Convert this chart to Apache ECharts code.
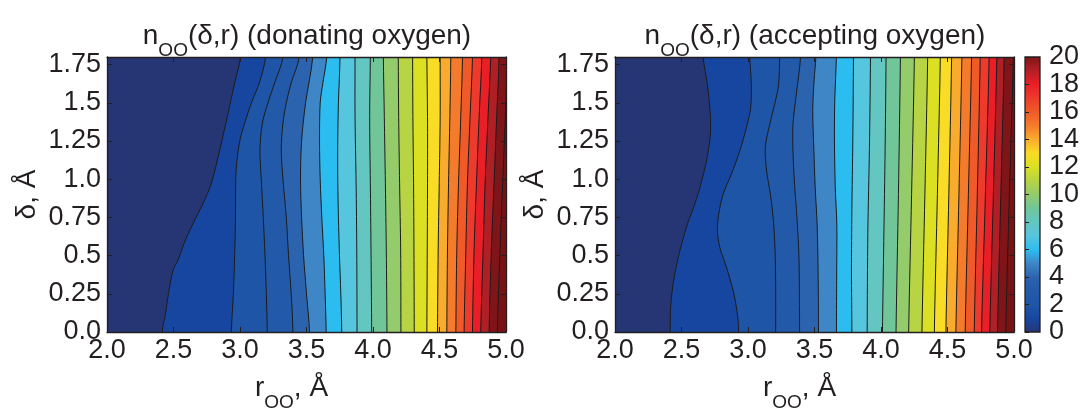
<!DOCTYPE html>
<html>
<head>
<meta charset="utf-8">
<script src="https://cdn.jsdelivr.net/npm/echarts@6.0.0/dist/echarts.min.js"></script>
<style>
html,body{margin:0;padding:0;background:#fff;}
#chart{width:1084px;height:410px;}
</style>
</head>
<body>
<div id="chart"></div>
<script>
// ---------- data ----------
const rTicks = [2.0, 2.5, 3.0, 3.5, 4.0, 4.5, 5.0];
const deltaTicks = [0, 0.25, 0.5, 0.75, 1.0, 1.25, 1.5, 1.75];
const deltaTickLabels = ['0.0', '0.25', '0.5', '0.75', '1.0', '1.25', '1.5', '1.75'];
const colorbarTicks = [0, 2, 4, 6, 8, 10, 12, 14, 16, 18, 20];
const contourLevels = [1, 2, 3, 4, 5, 6, 7, 8, 9, 10, 11, 12, 13, 14, 15, 16, 17, 18, 19, 20, 21];

// colour of band k (values between level k and k+1), k = 0..21
const bandColors = ['#263574', '#1746a0', '#1e55a7', '#2259a9', '#2c63ae', '#3e86c6', '#2cbdf0',
  '#56c5de', '#63c6c0', '#71c699', '#94cb6b', '#b6d444', '#dbe022', '#f8dc25', '#f9ab2d',
  '#f47b2b', '#f05a28', '#ee3a2c', '#e91e26', '#b01f25', '#7f1518', '#781315'];

// contour lines n_OO = level, as [r (Å), delta (Å)] pairs — donating oxygen
const donatingContours = [
  [[2.415,0],[2.440,0.12],[2.462,0.25],[2.497,0.406],[2.535,0.472],[2.585,0.592],[2.648,0.712],[2.723,0.843],[2.785,0.974],[2.848,1.193],[2.905,1.411],[2.960,1.63],[3.003,1.8]],
  [[2.935,0],[2.950,0.25],[2.960,0.5],[2.966,0.75],[2.968,1.0],[2.975,1.105],[2.998,1.25],[3.035,1.367],[3.086,1.5],[3.145,1.63],[3.192,1.8]],
  [[3.205,0],[3.198,0.25],[3.188,0.5],[3.175,0.75],[3.160,1.0],[3.150,1.193],[3.168,1.367],[3.210,1.5],[3.260,1.63],[3.323,1.8]],
  [[3.398,0],[3.385,0.25],[3.365,0.5],[3.348,0.75],[3.323,1.0],[3.310,1.193],[3.323,1.367],[3.348,1.5],[3.385,1.63],[3.445,1.8]],
  [[3.523,0],[3.500,0.25],[3.478,0.5],[3.463,0.75],[3.455,1.0],[3.463,1.25],[3.493,1.5],[3.547,1.8]],
  [[3.648,0],[3.640,0.25],[3.630,0.5],[3.615,0.75],[3.603,1.0],[3.598,1.25],[3.603,1.5],[3.623,1.63],[3.652,1.8]],
  [[3.765,0],[3.758,0.25],[3.748,0.5],[3.740,0.75],[3.735,1.0],[3.735,1.25],[3.740,1.5],[3.752,1.8]],
  [[3.880,0],[3.878,0.537],[3.873,0.974],[3.865,1.411],[3.865,1.8]],
  [[3.990,0],[3.985,0.537],[3.980,0.974],[3.975,1.411],[3.980,1.8]],
  [[4.105,0],[4.100,0.537],[4.093,0.974],[4.085,1.411],[4.078,1.8]],
  [[4.210,0],[4.208,0.537],[4.200,0.974],[4.193,1.411],[4.190,1.8]],
  [[4.310,0],[4.308,0.537],[4.305,0.974],[4.300,1.411],[4.298,1.8]],
  [[4.405,0],[4.408,0.537],[4.410,0.974],[4.410,1.411],[4.405,1.8]],
  [[4.485,0],[4.490,0.537],[4.498,0.974],[4.505,1.411],[4.505,1.8]],
  [[4.555,0],[4.560,0.537],[4.568,0.974],[4.578,1.411],[4.585,1.8]],
  [[4.623,0],[4.630,0.537],[4.643,0.974],[4.660,1.411],[4.673,1.8]],
  [[4.685,0],[4.698,0.537],[4.710,0.974],[4.730,1.411],[4.748,1.8]],
  [[4.748,0],[4.760,0.537],[4.778,0.974],[4.798,1.411],[4.818,1.8]],
  [[4.810,0],[4.828,0.537],[4.843,0.974],[4.865,1.411],[4.885,1.8]],
  [[4.873,0],[4.890,0.537],[4.910,0.974],[4.930,1.411],[4.948,1.8]],
  [[4.935,0],[4.955,0.537],[4.975,0.974],[4.995,1.411],[5.010,1.8]]
];

// contour lines — accepting oxygen
const acceptingContours = [
  [[2.415,0],[2.420,0.185],[2.445,0.359],[2.488,0.533],[2.545,0.707],[2.600,0.837],[2.645,0.967],[2.688,1.12],[2.715,1.272],[2.718,1.402],[2.695,1.62],[2.663,1.8]],
  [[2.930,0],[2.920,0.12],[2.888,0.272],[2.838,0.424],[2.788,0.554],[2.770,0.663],[2.780,0.772],[2.813,0.902],[2.875,1.033],[2.938,1.185],[2.988,1.337],[3.020,1.467],[3.025,1.62],[3.013,1.8]],
  [[3.208,0],[3.208,0.272],[3.205,0.489],[3.193,0.707],[3.170,0.891],[3.140,1.054],[3.130,1.207],[3.163,1.359],[3.200,1.489],[3.230,1.62],[3.238,1.8]],
  [[3.388,0],[3.383,0.489],[3.368,0.75],[3.350,0.967],[3.338,1.185],[3.338,1.359],[3.363,1.554],[3.395,1.8]],
  [[3.530,0],[3.527,0.4],[3.520,0.7],[3.505,0.95],[3.495,1.2],[3.487,1.45],[3.497,1.65],[3.510,1.8]],
  [[3.665,0],[3.667,0.4],[3.668,0.7],[3.656,0.95],[3.650,1.25],[3.652,1.5],[3.664,1.8]],
  [[3.781,0],[3.778,0.4],[3.781,0.8],[3.788,1.25],[3.793,1.8]],
  [[3.896,0],[3.901,0.65],[3.913,1.2],[3.921,1.8]],
  [[4.011,0],[4.021,0.6],[4.031,1.2],[4.038,1.8]],
  [[4.113,0],[4.131,0.9],[4.146,1.8]],
  [[4.208,0],[4.230,0.9],[4.251,1.8]],
  [[4.308,0],[4.330,0.9],[4.351,1.8]],
  [[4.401,0],[4.424,0.9],[4.446,1.8]],
  [[4.488,0],[4.510,0.9],[4.531,1.8]],
  [[4.563,0],[4.586,0.9],[4.608,1.8]],
  [[4.633,0],[4.657,0.9],[4.681,1.8]],
  [[4.701,0],[4.724,0.9],[4.746,1.8]],
  [[4.756,0],[4.785,0.9],[4.813,1.8]],
  [[4.818,0],[4.845,0.9],[4.871,1.8]],
  [[4.876,0],[4.901,0.9],[4.926,1.8]],
  [[4.938,0],[4.965,0.9],[4.995,1.8]]
];

// ---------- chart ----------
const FONT = "'Liberation Sans', Arial, Helvetica, sans-serif";
const INK = '#231f20';
const chart = echarts.init(document.getElementById('chart'), null, {renderer: 'canvas'});

const grids = [
  {left: 107, top: 57, width: 399, height: 275},
  {left: 615, top: 57, width: 399, height: 275},
  {left: 1025, top: 57, width: 15, height: 275}
];

const richName = {
  m: {fontSize: 28, fontFamily: FONT, color: INK, fontWeight: 'normal'},
  s: {fontSize: 19, fontFamily: FONT, color: INK, fontWeight: 'normal', verticalAlign: 'top', padding: [29, 0, 0, 0]}
};

function xAxesFor(gi) {
  const base = {
    gridIndex: gi, type: 'value', min: 2, max: 5, interval: 0.5, z: 10,
    splitLine: {show: false},
    axisLine: {show: true, onZero: false, lineStyle: {color: INK, width: 1.3}},
    axisTick: {show: true, inside: true, length: 5, lineStyle: {color: INK, width: 1}}
  };
  return [
    Object.assign({}, base, {
      position: 'bottom',
      axisLabel: {show: true, margin: 5, fontSize: 27, fontFamily: FONT, color: INK,
        customValues: rTicks, formatter: v => v.toFixed(1)},
      name: '{m|r}{s|OO}{m|, Å}', nameLocation: 'middle', nameGap: 32,
      nameTextStyle: {rich: richName, padding: [0, 30, 0, 0]}
    }),
    Object.assign({}, base, {position: 'top', axisLabel: {show: false}})
  ];
}
function yAxesFor(gi) {
  const base = {
    gridIndex: gi, type: 'value', min: 0, max: 1.8, z: 10,
    splitLine: {show: false},
    axisLine: {show: true, onZero: false, lineStyle: {color: INK, width: 1.3}},
    axisTick: {show: true, inside: true, length: 5, customValues: deltaTicks, lineStyle: {color: INK, width: 1}}
  };
  return [
    Object.assign({}, base, {
      position: 'left',
      axisLabel: {show: true, margin: 6, fontSize: 27, fontFamily: FONT, color: INK,
        customValues: deltaTicks, padding: [0, 0, 9, 0],
        formatter: v => deltaTickLabels[deltaTicks.findIndex(t => Math.abs(t - v) < 1e-6)]},
      name: '{m|δ, Å}', nameLocation: 'middle', nameGap: 66, nameRotate: 90,
      nameTextStyle: {rich: richName}
    }),
    Object.assign({}, base, {position: 'right', axisLabel: {show: false}})
  ];
}

// axis order: x = [p0 bottom, p0 top, p1 bottom, p1 top, colorbar]; y = [p0 left, p0 right, p1 left, p1 right, cb right, cb left]
function contourSeries(contours, axisIdx) {
  return {
    type: 'custom',
    xAxisIndex: axisIdx, yAxisIndex: axisIdx,
    clip: true, silent: true, animation: false,
    data: contourLevels.map(l => [l]),
    renderItem: function (params, api) {
      const line = contours[params.dataIndex];
      const level = contourLevels[params.dataIndex];
      const first = line[0], last = line[line.length - 1];
      const pts = [api.coord([first[0], -0.3])];
      line.forEach(p => pts.push(api.coord(p)));
      pts.push(api.coord([last[0], 2.1]));
      pts.push(api.coord([6.5, 2.1]));
      pts.push(api.coord([6.5, -0.3]));
      const cs = params.coordSys;
      return {
        type: 'polygon',
        shape: {points: pts, smooth: 0.3},
        style: {fill: bandColors[level], stroke: '#1c1c1c', lineWidth: 1},
        clipPath: {type: 'rect', shape: {x: cs.x, y: cs.y, width: cs.width, height: cs.height}}
      };
    }
  };
}

const gradientStops = bandColors.slice(0, 21).map((c, i) => ({offset: i / 20, color: c}));

const option = {
  animation: false,
  backgroundColor: '#ffffff',
  title: [
    {text: '{m|n}{s|OO}{m|(δ,r) (donating oxygen)}', left: 307, top: 12, textAlign: 'center', padding: 0,
      textStyle: {rich: richName, fontWeight: 'normal'}},
    {text: '{m|n}{s|OO}{m|(δ,r) (accepting oxygen)}', left: 815, top: 12, textAlign: 'center', padding: 0,
      textStyle: {rich: richName, fontWeight: 'normal'}}
  ],
  grid: [
    Object.assign({show: true, backgroundColor: bandColors[0], borderWidth: 0, containLabel: false, outerBoundsMode: 'none'}, grids[0]),
    Object.assign({show: true, backgroundColor: bandColors[0], borderWidth: 0, containLabel: false, outerBoundsMode: 'none'}, grids[1]),
    Object.assign({show: false, containLabel: false, outerBoundsMode: 'none'}, grids[2])
  ],
  xAxis: [].concat(xAxesFor(0), xAxesFor(1), [
    {gridIndex: 2, type: 'value', min: 0, max: 1, show: false}
  ]),
  yAxis: [].concat(yAxesFor(0), yAxesFor(1), [
    {gridIndex: 2, type: 'value', min: 0, max: 20, interval: 2, position: 'right', z: 10,
      splitLine: {show: false}, axisLine: {show: false},
      axisTick: {show: false},
      axisLabel: {show: true, margin: 9, fontSize: 27, fontFamily: FONT, color: INK,
        customValues: colorbarTicks, padding: [0, 0, 9, 0]}},
    {gridIndex: 2, type: 'value', min: 0, max: 20, interval: 2, position: 'left', z: 10,
      splitLine: {show: false}, axisLine: {show: false},
      axisTick: {show: true, inside: true, length: 4, customValues: colorbarTicks, lineStyle: {color: INK, width: 1}},
      axisLabel: {show: false}}
  ]),
  series: [
    contourSeries(donatingContours, 0),
    contourSeries(acceptingContours, 2),
    {
      type: 'custom', xAxisIndex: 4, yAxisIndex: 4, silent: true, animation: false, z: 1,
      data: [[0, colorbarTicks[0], colorbarTicks[colorbarTicks.length - 1]]],
      renderItem: function (params, api) {
        const p0 = api.coord([0, api.value(1)]);
        const p1 = api.coord([1, api.value(2)]);
        return {
          type: 'rect',
          shape: {x: p0[0], y: p1[1], width: p1[0] - p0[0], height: p0[1] - p1[1]},
          style: {fill: new echarts.graphic.LinearGradient(0, 1, 0, 0, gradientStops), stroke: INK, lineWidth: 1.3}
        };
      }
    }
  ]
};
chart.setOption(option);
</script>
</body>
</html>
